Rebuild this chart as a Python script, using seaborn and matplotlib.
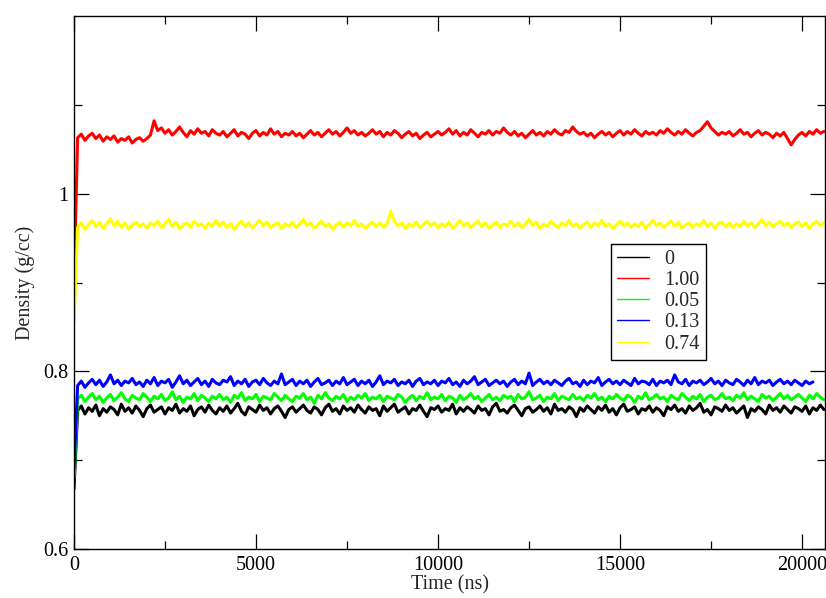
import numpy as np
import pandas as pd
import matplotlib
matplotlib.use("Agg")
import matplotlib.pyplot as plt
from matplotlib.ticker import MultipleLocator, FixedLocator, FuncFormatter
import seaborn as sns

# ---- data (density in thousandths of g/cc, sampled every 100 ns) ----
time_step_ns = 100

dens_0 = [
    668, 756, 761, 752, 759, 755, 762, 750, 758, 754, 760, 757, 751, 763, 755, 759, 753, 761, 756, 749,
    758, 762, 754, 757, 760, 752, 759, 756, 763, 753, 758, 755, 761, 750, 757, 760, 754, 762, 756, 752,
    759, 755, 761, 753, 758, 764, 755, 751, 760, 757, 754, 762, 756, 759, 752, 758, 761, 755, 748, 757,
    760, 754, 758, 762, 756, 753, 760, 757, 751, 759, 763, 755, 758, 752, 761, 756, 759, 754, 762, 757,
    753, 760, 756, 758, 750, 761, 755, 759, 763, 754, 757, 760, 752, 758, 756, 762, 755, 749, 759, 757,
    761, 754, 758, 756, 763, 752, 759, 755, 760, 757, 753, 761, 756, 758, 751, 760, 764, 755, 757, 753,
    759, 762, 756, 750, 758, 760, 754, 757, 761, 755, 759, 752, 763, 756, 758, 754, 760, 757, 749, 759,
    755, 761, 757, 753, 760, 756, 762, 754, 758, 751, 759, 763, 755, 757, 760, 752, 758, 756, 761, 754,
    759, 756, 750, 760, 757, 762, 755, 758, 753, 761, 756, 759, 764, 754, 757, 751, 760, 758, 755, 762,
    756, 759, 753, 757, 761, 748, 758, 755, 760, 757, 752, 762, 756, 759, 754, 761, 757, 753, 760, 758,
    755, 761, 752, 759, 756, 762, 757,
]

dens_100 = [
    900, 1063, 1067, 1060, 1065, 1068, 1062, 1066, 1059, 1064, 1061, 1065, 1058, 1062, 1060, 1064, 1057, 1061, 1063, 1059,
    1062, 1066, 1082, 1071, 1074, 1068, 1072, 1066, 1070, 1075, 1069, 1064, 1071, 1067, 1073, 1068, 1070, 1065, 1072, 1068,
    1066, 1070, 1064, 1068, 1072, 1065, 1069, 1067, 1062, 1068, 1071, 1065, 1069, 1066, 1073, 1067, 1070, 1064, 1068, 1066,
    1070, 1065, 1068, 1063, 1067, 1071, 1066, 1069, 1064, 1068, 1072, 1067, 1070, 1065, 1069, 1074, 1068, 1071, 1066, 1069,
    1065, 1068, 1072, 1067, 1070, 1064, 1069, 1066, 1071, 1068, 1063, 1067, 1070, 1065, 1068, 1062, 1066, 1069, 1064, 1067,
    1070, 1066, 1069, 1073, 1067, 1071, 1065, 1069, 1066, 1072, 1068, 1064, 1069, 1067, 1071, 1066, 1070, 1068, 1074, 1069,
    1066, 1070, 1065, 1068, 1063, 1067, 1071, 1066, 1069, 1065, 1070, 1067, 1072, 1068, 1066, 1071, 1069, 1075, 1070, 1067,
    1069, 1065, 1068, 1063, 1067, 1070, 1066, 1069, 1064, 1068, 1071, 1066, 1070, 1067, 1072, 1068, 1065, 1070, 1067, 1069,
    1066, 1071, 1068, 1073, 1069, 1066, 1070, 1067, 1072, 1068, 1065, 1069, 1071, 1076, 1081, 1074, 1070, 1066, 1069, 1067,
    1070, 1065, 1068, 1072, 1067, 1069, 1064, 1068, 1071, 1066, 1069, 1067, 1063, 1068, 1065, 1069, 1062, 1055, 1061, 1066,
    1069, 1065, 1070, 1067, 1072, 1068, 1070,
]

dens_005 = [
    680, 769, 773, 766, 771, 775, 768, 772, 765, 770, 774, 767, 771, 776, 769, 766, 773, 770, 768, 775,
    771, 766, 772, 769, 774, 767, 770, 777, 768, 772, 765, 771, 769, 775, 767, 773, 770, 766, 772, 769,
    774, 768, 771, 765, 773, 770, 776, 767, 771, 769, 774, 766, 772, 770, 768, 775, 771, 767, 773, 769,
    766, 772, 770, 775, 768, 771, 764, 773, 769, 776, 770, 767, 772, 769, 774, 766, 771, 768, 773, 770,
    775, 767, 771, 769, 773, 766, 772, 770, 768, 774, 771, 765, 770, 773, 767, 772, 769, 776, 768, 771,
    769, 774, 767, 772, 770, 765, 773, 768, 771, 775, 769, 772, 766, 770, 774, 768, 771, 767, 773, 770,
    772, 766, 774, 769, 771, 777, 768, 770, 773, 766, 771, 769, 775, 767, 772, 770, 768, 774, 769, 771,
    767, 773, 770, 775, 768, 771, 766, 772, 769, 774, 770, 767, 773, 771, 765, 772, 769, 776, 768, 770,
    774, 769, 771, 766, 773, 770, 768, 775, 771, 767, 772, 769, 774, 766, 771, 773, 768, 770, 775, 769,
    771, 767, 773, 770, 776, 768, 772, 769, 766, 774, 770, 772, 767, 771, 775, 769, 773, 768, 771, 774,
    770, 766, 773, 769, 775, 771, 768,
]

dens_013 = [
    690, 784, 789, 782, 787, 791, 785, 790, 783, 788, 796, 786, 790, 784, 789, 787, 792, 785, 788, 783,
    790, 786, 793, 784, 789, 787, 791, 782, 788, 795, 786, 790, 784, 788, 792, 785, 789, 783, 791, 787,
    785, 790, 788, 794, 784, 789, 786, 791, 783, 788, 790, 785, 792, 787, 784, 789, 786, 797, 785, 788,
    791, 784, 789, 786, 790, 783, 788, 792, 785, 787, 790, 784, 789, 786, 793, 785, 788, 791, 784, 789,
    786, 790, 783, 788, 795, 785, 789, 787, 791, 784, 788, 786, 790, 783, 789, 792, 785, 788, 786, 790,
    784, 789, 787, 792, 785, 788, 783, 790, 786, 789, 794, 785, 788, 791, 784, 787, 790, 786, 789, 783,
    788, 791, 785, 789, 786, 798, 784, 788, 791, 786, 789, 785, 790, 787, 784, 789, 792, 786, 788, 783,
    790, 785, 789, 787, 793, 784, 788, 791, 786, 789, 785, 790, 787, 784, 792, 786, 789, 788, 785, 791,
    784, 789, 787, 790, 785, 796, 788, 786, 791, 784, 789, 787, 790, 785, 788, 792, 786, 789, 784, 790,
    787, 785, 791, 788, 784, 790, 786, 793, 785, 789, 787, 790, 784, 788, 791, 786, 789, 785, 790, 787,
    784, 789, 786, 788,
]

dens_074 = [
    855, 962, 967, 960, 965, 970, 963, 968, 961, 966, 972, 964, 969, 962, 967, 960, 965, 968, 963, 966,
    961, 967, 964, 969, 962, 966, 971, 963, 968, 960, 965, 967, 962, 969, 964, 966, 961, 967, 963, 970,
    964, 968, 962, 966, 960, 965, 969, 963, 967, 961, 966, 970, 964, 968, 962, 965, 967, 961, 966, 963,
    968, 962, 966, 971, 964, 967, 961, 965, 969, 963, 966, 960, 965, 968, 962, 967, 964, 970, 963, 966,
    961, 965, 968, 963, 967, 962, 966, 980, 969, 964, 967, 961, 966, 963, 968, 962, 965, 969, 964, 967,
    962, 966, 963, 968, 961, 965, 970, 964, 967, 962, 966, 969, 963, 967, 961, 965, 968, 962, 966, 964,
    969, 963, 967, 962, 966, 971, 964, 968, 961, 966, 963, 969, 965, 962, 967, 964, 970, 963, 966, 961,
    965, 968, 962, 967, 964, 970, 963, 966, 961, 965, 969, 964, 967, 962, 966, 963, 968, 961, 965, 970,
    964, 967, 962, 966, 969, 963, 968, 961, 965, 967, 962, 966, 964, 970, 963, 967, 961, 966, 968, 963,
    967, 962, 966, 963, 969, 964, 967, 962, 966, 971, 964, 968, 963, 966, 969, 964, 967, 962, 966, 968,
    963, 967, 961, 966, 969, 964, 967,
]

series_labels = ["0", "1.00", "0.05", "0.13", "0.74"]
series_values = [dens_0, dens_100, dens_005, dens_013, dens_074]
series_colors = ["#000000", "#ff0000", "#00ff00", "#0000ff", "#ffff00"]

x_ticks = [0, 5000, 10000, 15000, 20000]
y_ticks = [0.6, 0.8, 1.0]

# ---- long-form table ----
frames = []
for lab, vals in zip(series_labels, series_values):
    v = np.asarray(vals, dtype=float) / 1000.0
    frames.append(pd.DataFrame({
        "time": np.arange(len(v)) * time_step_ns,
        "density": v,
        "conc": lab,
    }))
df = pd.concat(frames, ignore_index=True)

sns.set_style("ticks")
plt.rcParams["font.family"] = ["Liberation Serif", "DejaVu Serif"]

fig = plt.figure(figsize=(8.26, 5.98), dpi=100)
ax = fig.add_axes([74 / 826, 1 - 549 / 598, (825 - 74) / 826, (549 - 16) / 598])

sns.lineplot(data=df, x="time", y="density", hue="conc", hue_order=series_labels,
             palette=dict(zip(series_labels, series_colors)), estimator=None,
             sort=False, linewidth=2.2, ax=ax, legend=True)

ax.set_xlim(0, 20630)
ax.set_ylim(0.6, 1.2)
ax.xaxis.set_major_locator(FixedLocator(x_ticks))
ax.xaxis.set_minor_locator(MultipleLocator(2500))
ax.yaxis.set_major_locator(FixedLocator(y_ticks))
ax.yaxis.set_minor_locator(FixedLocator([0.7, 0.9, 1.1]))
ax.yaxis.set_major_formatter(FuncFormatter(lambda v, p: f"{v:g}"))
ax.xaxis.set_major_formatter(FuncFormatter(lambda v, p: f"{v:g}"))

ax.tick_params(which="both", direction="in", top=True, right=True,
               colors="black", labelsize=14.5, width=0.9)
ax.tick_params(which="major", length=11, pad=4)
ax.tick_params(axis="x", which="major", pad=5)
ax.tick_params(which="minor", length=5.5)
for s in ax.spines.values():
    s.set_linewidth(1.0)
    s.set_color("black")

ax.set_xlabel("Time (ns)", fontsize=14.5, labelpad=0)
ax.set_ylabel("Density (g/cc)", fontsize=14.5, labelpad=6)

handles, labels = ax.get_legend_handles_labels()
for h in handles:
    h.set_linewidth(1.0)
leg = ax.legend(handles, labels, loc="upper left",
                bbox_to_anchor=(611 / 826, 1 - 244 / 598),
                bbox_transform=fig.transFigure, frameon=True, fancybox=False,
                edgecolor="black", fontsize=14.5, handlelength=1.6,
                handletextpad=0.75, labelspacing=0.1, borderpad=0.3,
                borderaxespad=0, title=None)
leg.get_frame().set_linewidth(1.0)
leg.get_frame().set_alpha(1)

fig.savefig("out.png", dpi=100, facecolor="white")
